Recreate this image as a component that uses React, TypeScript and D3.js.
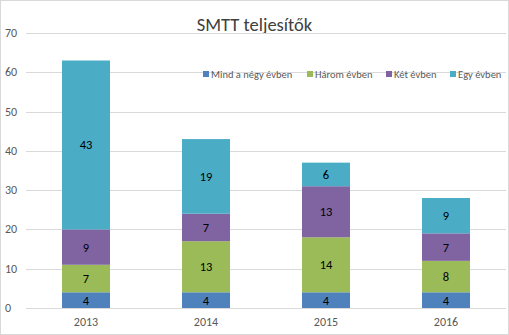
import React from "react";
import * as d3 from "d3";

const years = ["2013", "2014", "2015", "2016"];
const seriesNames = ["Mind a négy évben", "Három évben", "Két évben", "Egy évben"];
const mindANegy = [4, 4, 4, 4];
const harom = [7, 13, 14, 8];
const ket = [9, 7, 13, 7];
const egy = [43, 19, 6, 9];
const colors = ["#4F81BD", "#9BBB59", "#8064A2", "#4BACC6"];
const yTicks = [0, 10, 20, 30, 40, 50, 60, 70];

export default function App() {
  const W = 509, H = 335;
  const left = 26, right = 506, top = 33, bottom = 308;
  const x = d3.scaleBand().domain(years).range([left, right]).paddingInner(0.6).paddingOuter(0.3);
  const y = d3.scaleLinear().domain([0, 70]).range([bottom, top]);
  const rows = years.map((yr, i) => ({ year: yr, s0: mindANegy[i], s1: harom[i], s2: ket[i], s3: egy[i] }));
  const stack = d3.stack<any>().keys(["s0", "s1", "s2", "s3"])(rows);
  const font = "Calibri, Carlito, 'Liberation Sans', Arial, sans-serif";
  const legendX = [203, 307, 386, 450];
  return (
    <svg width={W} height={H} style={{ position: "absolute", left: 0, top: 0 }} fontFamily={font}>
      <rect x={0.5} y={0.5} width={W - 1} height={H - 1} fill="#fff" stroke="#D9D9D9" />
      <text x={W / 2} y={31} textAnchor="middle" fontSize={18.5} fill="#404040">SMTT teljesítők</text>
      {yTicks.map((t) => (
        <g key={t}>
          <line x1={left} x2={right} y1={Math.round(y(t)) + 0.5} y2={Math.round(y(t)) + 0.5} stroke="#D9D9D9" />
          <text x={5} y={y(t) + 4} fontSize={12} fill="#595959">{t}</text>
        </g>
      ))}
      {stack.map((layer, si) => (
        <g key={si}>
          {layer.map((d, i) => (
            <g key={i}>
              <rect x={x(years[i])} y={y(d[1])} width={x.bandwidth()} height={y(d[0]) - y(d[1])} fill={colors[si]} />
              <text x={(x(years[i]) as number) + x.bandwidth() / 2} y={(y(d[0]) + y(d[1])) / 2 + 4.5} textAnchor="middle" fontSize={12.5} fill="#000">
                {d[1] - d[0]}
              </text>
            </g>
          ))}
        </g>
      ))}
      {years.map((yr) => (
        <text key={yr} x={(x(yr) as number) + x.bandwidth() / 2} y={326} textAnchor="middle" fontSize={12} fill="#595959">{yr}</text>
      ))}
      {seriesNames.map((n, i) => (
        <g key={n}>
          <rect x={legendX[i]} y={71} width={6} height={6} fill={colors[i]} />
          <text x={legendX[i] + 8} y={78} fontSize={10.5} fill="#595959">{n}</text>
        </g>
      ))}
    </svg>
  );
}
